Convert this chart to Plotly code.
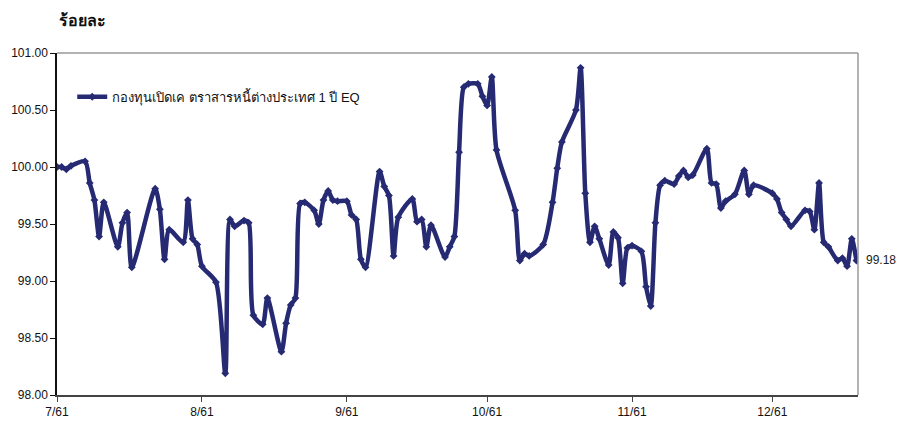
import plotly.graph_objects as go

dates = [
    "2018-07-01", "2018-07-02", "2018-07-03", "2018-07-04", "2018-07-07", "2018-07-08",
    "2018-07-09", "2018-07-10", "2018-07-11", "2018-07-14", "2018-07-15", "2018-07-16",
    "2018-07-17", "2018-07-22", "2018-07-23", "2018-07-24", "2018-07-25", "2018-07-28",
    "2018-07-29", "2018-07-30", "2018-07-31", "2018-08-01", "2018-08-04", "2018-08-06",
    "2018-08-07", "2018-08-08", "2018-08-10", "2018-08-11", "2018-08-12", "2018-08-14",
    "2018-08-15", "2018-08-18", "2018-08-19", "2018-08-20", "2018-08-21", "2018-08-22",
    "2018-08-23", "2018-08-25", "2018-08-26", "2018-08-27", "2018-08-28", "2018-08-29",
    "2018-08-30", "2018-09-01", "2018-09-02", "2018-09-03", "2018-09-04", "2018-09-05",
    "2018-09-08", "2018-09-09", "2018-09-10", "2018-09-11", "2018-09-12", "2018-09-15",
    "2018-09-16", "2018-09-17", "2018-09-18", "2018-09-19", "2018-09-22", "2018-09-23",
    "2018-09-24", "2018-09-25", "2018-09-26", "2018-09-27", "2018-09-29", "2018-09-30",
    "2018-10-01", "2018-10-02", "2018-10-03", "2018-10-07", "2018-10-08", "2018-10-09",
    "2018-10-10", "2018-10-13", "2018-10-15", "2018-10-16", "2018-10-17", "2018-10-20",
    "2018-10-21", "2018-10-22", "2018-10-23", "2018-10-24", "2018-10-25", "2018-10-27",
    "2018-10-28", "2018-10-29", "2018-10-30", "2018-10-31", "2018-11-01", "2018-11-03",
    "2018-11-04", "2018-11-05", "2018-11-06", "2018-11-07", "2018-11-08", "2018-11-10",
    "2018-11-11", "2018-11-12", "2018-11-13", "2018-11-14", "2018-11-17", "2018-11-18",
    "2018-11-19", "2018-11-20", "2018-11-21", "2018-11-23", "2018-11-25", "2018-11-26",
    "2018-11-27", "2018-12-01", "2018-12-02", "2018-12-03", "2018-12-04", "2018-12-05",
    "2018-12-08", "2018-12-09", "2018-12-10", "2018-12-11", "2018-12-12", "2018-12-13",
    "2018-12-15", "2018-12-16", "2018-12-17", "2018-12-18", "2018-12-19",
]

values = [
    100.00, 100.00, 99.98, 100.01, 100.05, 99.86,
    99.71, 99.39, 99.69, 99.30, 99.51, 99.60,
    99.12, 99.81, 99.63, 99.19, 99.45, 99.34,
    99.71, 99.37, 99.32, 99.13, 98.99, 98.19,
    99.54, 99.48, 99.53, 99.51, 98.70, 98.62,
    98.85, 98.38, 98.63, 98.79, 98.85, 99.68,
    99.69, 99.62, 99.50, 99.71, 99.79, 99.71,
    99.70, 99.70, 99.58, 99.54, 99.19, 99.12,
    99.96, 99.83, 99.75, 99.22, 99.56, 99.72,
    99.52, 99.54, 99.30, 99.49, 99.21, 99.30,
    99.39, 100.13, 100.70, 100.73, 100.73, 100.62,
    100.54, 100.79, 100.15, 99.62, 99.18, 99.24,
    99.22, 99.32, 99.69, 99.99, 100.22, 100.50,
    100.87, 99.77, 99.34, 99.48, 99.37, 99.14,
    99.43, 99.38, 98.98, 99.29, 99.31, 99.26,
    98.95, 98.78, 99.51, 99.84, 99.88, 99.85,
    99.92, 99.97, 99.91, 99.93, 100.16, 99.86,
    99.85, 99.64, 99.70, 99.76, 99.97, 99.76,
    99.84, 99.77, 99.72, 99.60, 99.54, 99.48,
    99.62, 99.61, 99.45, 99.86, 99.34, 99.30,
    99.18, 99.20, 99.13, 99.37, 99.18,
]

series_name = "กองทุนเปิดเค ตราสารหนี้ต่างประเทศ 1 ปี EQ"
y_title = "ร้อยละ"
month_ticks = ["2018-07-01", "2018-08-01", "2018-09-01", "2018-10-01", "2018-11-01", "2018-12-01"]
month_labels = ["7/61", "8/61", "9/61", "10/61", "11/61", "12/61"]
y_tickvals = [98.0, 98.5, 99.0, 99.5, 100.0, 100.5, 101.0]

line_color = "#262A73"
font_family = "Liberation Sans, Arial, Noto Sans, sans-serif"

fig = go.Figure()
fig.add_trace(go.Scatter(
    x=dates, y=values, name=series_name,
    mode="lines+markers",
    line=dict(color=line_color, width=4.5, shape="spline", smoothing=0.7),
    marker=dict(symbol="diamond", size=6, color=line_color),
))

fig.add_annotation(
    x=dates[-1], y=values[-1], text=f"{values[-1]:.2f}",
    xref="x", yref="y", xanchor="left", yanchor="middle",
    xshift=8, showarrow=False,
    font=dict(size=12, color="#222", family=font_family),
)

fig.add_annotation(
    x=0, y=1, xref="paper", yref="paper", xanchor="left", yanchor="bottom",
    text=f"<b>{y_title}</b>", showarrow=False, yshift=22, xshift=0,
    font=dict(size=16, color="#111", family=font_family),
)

# top and right frame
fig.add_shape(type="line", xref="paper", yref="paper", x0=0, x1=1, y0=1, y1=1,
              line=dict(color="#999999", width=1.5))
fig.add_shape(type="line", xref="paper", yref="paper", x0=1, x1=1, y0=0, y1=1,
              line=dict(color="#999999", width=1.5))

fig.update_layout(
    width=899, height=413,
    margin=dict(l=49, r=49, t=45, b=26, autoexpand=False),
    paper_bgcolor="white", plot_bgcolor="white",
    font=dict(family=font_family, size=12, color="#111"),
    showlegend=True,
    legend=dict(x=0.019, y=0.872, xanchor="left", yanchor="middle",
                bgcolor="rgba(0,0,0,0)", font=dict(size=13, color="#111")),
    xaxis=dict(
        type="date", range=["2018-07-01", "2018-12-19 08:00"],
        tickvals=month_ticks, ticktext=month_labels,
        showgrid=False, zeroline=False, automargin=False,
        showline=True, linecolor="#444", linewidth=1.5,
        ticks="outside", ticklen=5, tickcolor="#444",
        tickfont=dict(size=12),
    ),
    yaxis=dict(
        range=[98.0, 101.0],
        tickvals=y_tickvals, tickformat=".2f",
        showgrid=False, zeroline=False, automargin=False,
        showline=True, linecolor="#111", linewidth=1.5,
        ticks="outside", ticklen=5, tickcolor="#111",
        tickfont=dict(size=12),
    ),
)

fig.write_html("out.html")
